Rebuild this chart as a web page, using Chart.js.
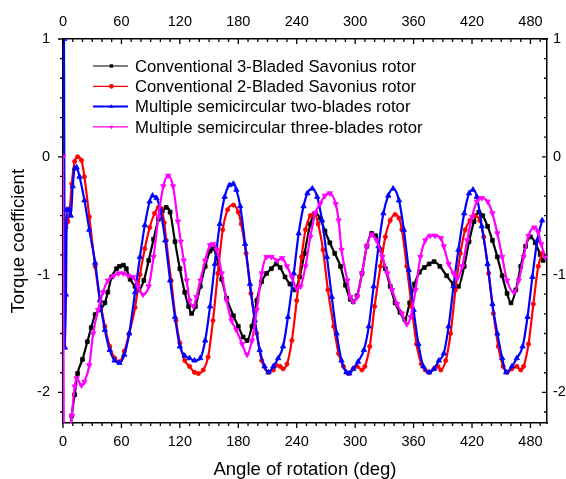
<!DOCTYPE html>
<html>
<head>
<meta charset="utf-8">
<script src="https://cdn.jsdelivr.net/npm/chart.js@4.4.1/dist/chart.umd.min.js"></script>
<style>
  html, body { margin: 0; padding: 0; background: #fff; }
  canvas { display: block; }
</style>
</head>
<body>
<canvas id="torque" width="566" height="479"></canvas>
<script>
// values (angle in deg, torque coefficient)

// Conventional 3-Bladed Savonius rotor
const angle3Blade = [7, 9, 12, 15, 20, 25, 29, 33, 38, 43, 46, 50, 55, 58, 62, 65, 69, 74, 78, 83,
  88, 93, 98, 102, 106, 110, 115, 120, 125, 129, 132, 136, 141, 146, 151, 154, 158, 163, 168, 175,
  180, 185, 189, 194, 199, 204, 209, 214, 219, 223, 228, 233, 238, 243, 248, 254, 259, 264, 269, 274,
  279, 285, 290, 295, 298, 302, 307, 312, 317, 321, 326, 331, 336, 341, 346, 351, 356, 361, 366, 371,
  376, 381, 387, 394, 401, 406, 412, 417, 422, 427, 431, 436, 441, 446, 451, 456, 460, 465, 470, 475,
  480, 485, 490, 493];
const torque3Blade = [-2.45, -2.2, -2.02, -1.84, -1.72, -1.57, -1.45, -1.34, -1.30, -1.24, -1.15, -1.02, -0.95, -0.93, -0.92, -0.95, -1.04, -1.10, -1.13, -1.05,
  -0.88, -0.70, -0.53, -0.46, -0.43, -0.47, -0.72, -0.95, -1.15, -1.27, -1.33, -1.27, -1.10, -0.93, -0.80, -0.78, -0.86, -1.04, -1.20, -1.35,
  -1.44, -1.53, -1.56, -1.44, -1.22, -1.06, -0.99, -0.95, -0.91, -0.94, -1.02, -1.08, -1.13, -1.02, -0.82, -0.57, -0.48, -0.52, -0.63, -0.73,
  -0.82, -0.93, -1.09, -1.21, -1.23, -1.18, -0.99, -0.76, -0.65, -0.67, -0.79, -0.95, -1.10, -1.24, -1.32, -1.38, -1.24, -1.08, -0.98, -0.94,
  -0.91, -0.89, -0.93, -1.01, -1.08, -1.10, -0.93, -0.72, -0.55, -0.47, -0.50, -0.59, -0.71, -0.85, -1.01, -1.16, -1.24, -1.13, -0.93, -0.76,
  -0.68, -0.73, -0.83, -0.88];

// Conventional 2-Bladed Savonius rotor
const angle2Blade = [1, 3, 5, 7, 9, 12, 15, 19, 22, 27, 33, 38, 43, 48, 53, 58, 63, 68, 74, 79,
  84, 89, 94, 98, 101, 104, 106, 111, 116, 120, 125, 130, 135, 139, 144, 149, 154, 159, 164, 169,
  175, 180, 183, 188, 193, 199, 204, 211, 216, 219, 223, 226, 230, 235, 240, 245, 249, 254, 258, 262,
  267, 272, 278, 283, 288, 293, 298, 302, 307, 310, 315, 320, 326, 331, 336, 341, 345, 348, 353, 358,
  363, 368, 372, 376, 381, 385, 388, 393, 398, 403, 408, 413, 418, 423, 428, 432, 437, 442, 447, 452,
  456, 461, 466, 470, 473, 478, 483, 488, 492];
const torque2Blade = [-0.45, -0.6, -0.55, -0.45, -0.23, -0.04, 0.0, -0.03, -0.17, -0.51, -0.93, -1.22, -1.44, -1.61, -1.71, -1.74, -1.65, -1.5, -1.28, -1.0,
  -0.78, -0.6, -0.48, -0.43, -0.44, -0.56, -0.71, -1.05, -1.39, -1.58, -1.73, -1.78, -1.83, -1.84, -1.81, -1.70, -1.39, -0.99, -0.62, -0.45,
  -0.41, -0.47, -0.57, -0.82, -1.16, -1.50, -1.73, -1.83, -1.81, -1.77, -1.78, -1.80, -1.76, -1.56, -1.22, -0.85, -0.62, -0.50, -0.48, -0.57,
  -0.79, -1.13, -1.44, -1.67, -1.78, -1.84, -1.80, -1.78, -1.81, -1.78, -1.61, -1.27, -0.93, -0.68, -0.54, -0.49, -0.52, -0.62, -0.93, -1.27,
  -1.59, -1.76, -1.81, -1.83, -1.80, -1.78, -1.81, -1.73, -1.50, -1.13, -0.82, -0.62, -0.54, -0.50, -0.54, -0.68, -0.99, -1.33, -1.61, -1.78,
  -1.83, -1.80, -1.78, -1.81, -1.78, -1.59, -1.25, -0.93, -0.82];

// Multiple semicircular two-blades rotor
const angleSemi2 = [1, 2, 3, 4, 6, 8, 10, 12, 14, 17, 22, 27, 33, 38, 43, 48, 53, 58, 63, 68,
  74, 79, 84, 89, 92, 96, 100, 105, 110, 115, 120, 125, 130, 135, 141, 146, 151, 156, 161, 166,
  171, 175, 178, 182, 187, 192, 197, 202, 207, 211, 216, 221, 226, 231, 237, 242, 247, 251, 256, 261,
  266, 271, 276, 281, 286, 291, 294, 298, 303, 309, 314, 319, 324, 329, 334, 339, 345, 350, 355, 360,
  365, 370, 376, 381, 386, 391, 396, 401, 406, 412, 417, 421, 425, 430, 436, 441, 446, 451, 455, 461,
  466, 472, 477, 482, 487, 492];
const torqueSemi2 = [1.0, -1.62, -1.17, -0.45, -0.45, -0.5, -0.25, -0.1, -0.09, -0.17, -0.37, -0.62, -0.90, -1.22, -1.47, -1.64, -1.73, -1.75, -1.68, -1.5,
  -1.15, -0.85, -0.58, -0.38, -0.33, -0.35, -0.45, -0.71, -1.05, -1.36, -1.61, -1.69, -1.71, -1.73, -1.71, -1.56, -1.27, -0.91, -0.57, -0.34,
  -0.24, -0.23, -0.28, -0.42, -0.74, -1.08, -1.39, -1.64, -1.78, -1.83, -1.78, -1.71, -1.61, -1.36, -0.99, -0.65, -0.42, -0.31, -0.27, -0.34,
  -0.54, -0.85, -1.19, -1.50, -1.73, -1.83, -1.84, -1.80, -1.74, -1.64, -1.44, -1.10, -0.76, -0.48, -0.33, -0.27, -0.37, -0.62, -0.96, -1.30,
  -1.59, -1.78, -1.83, -1.80, -1.73, -1.67, -1.44, -1.10, -0.79, -0.48, -0.31, -0.28, -0.34, -0.59, -0.91, -1.25, -1.50, -1.71, -1.83, -1.78,
  -1.71, -1.61, -1.36, -1.02, -0.71, -0.54];

// Multiple semicircular three-blades rotor
const angleSemi3 = [0, 1, 6, 9, 12, 14, 19, 22, 27, 31, 36, 41, 46, 52, 57, 62, 67, 72, 77, 82,
  88, 93, 98, 103, 108, 113, 118, 121, 124, 127, 130, 134, 137, 141, 146, 151, 154, 158, 163, 168,
  173, 178, 184, 189, 194, 199, 204, 209, 214, 220, 225, 230, 235, 240, 244, 249, 254, 259, 264, 269,
  274, 280, 283, 286, 292, 295, 298, 302, 307, 312, 317, 322, 328, 333, 338, 343, 348, 353, 357, 362,
  367, 372, 377, 382, 388, 391, 396, 401, 405, 410, 415, 420, 425, 430, 436, 441, 446, 451, 456, 463,
  468, 473, 478, 484, 488, 491, 495];
const torqueSemi3 = [0.0, -2.5, -2.45, -2.2, -1.95, -1.88, -1.94, -1.91, -1.77, -1.5, -1.3, -1.15, -1.05, -1.01, -0.99, -0.99, -1.01, -1.02, -1.10, -1.17,
  -1.10, -0.85, -0.51, -0.25, -0.16, -0.25, -0.55, -0.72, -0.88, -1.05, -1.22, -1.27, -1.19, -1.05, -0.88, -0.75, -0.74, -0.79, -0.99, -1.22,
  -1.39, -1.47, -1.59, -1.68, -1.56, -1.30, -0.99, -0.85, -0.85, -0.88, -0.86, -0.93, -1.02, -1.12, -1.10, -0.93, -0.68, -0.48, -0.40, -0.33,
  -0.31, -0.40, -0.54, -0.79, -1.05, -1.19, -1.23, -1.19, -0.99, -0.76, -0.66, -0.71, -0.85, -0.99, -1.13, -1.25, -1.33, -1.42, -1.36, -1.13,
  -0.85, -0.71, -0.67, -0.67, -0.69, -0.76, -0.91, -0.99, -1.03, -0.93, -0.71, -0.51, -0.38, -0.35, -0.38, -0.48, -0.65, -0.85, -1.05, -1.15,
  -1.05, -0.85, -0.67, -0.60, -0.64, -0.74, -0.85];

const seriesLabels = [
  'Conventional 3-Bladed Savonius rotor',
  'Conventional 2-Bladed Savonius rotor',
  'Multiple semicircular two-blades rotor',
  'Multiple semicircular three-blades rotor'
];
const xTicks = [0, 60, 120, 180, 240, 300, 360, 420, 480];
const yTicks = [-2, -1, 0, 1];

function pairs(xs, ys) {
  return xs.map((x, i) => ({ x: x, y: ys[i] }));
}

Chart.defaults.font.family = '"Liberation Sans", Arial, sans-serif';
Chart.defaults.color = '#000';

const tickFont = { size: 14.5 };
const titleFont = { size: 18.5, lineHeight: 1 };

// origin-style frame: major + minor ticks on all four sides
const frameTicks = {
  id: 'frameTicks',
  afterDraw(chart) {
    const ctx = chart.ctx;
    const a = chart.chartArea;
    const xs = chart.scales.x, ys = chart.scales.y;
    ctx.save();
    ctx.strokeStyle = '#000';
    ctx.lineWidth = 1.3;
    ctx.beginPath();
    for (let v = 0; v <= xs.max; v += 10) {
      const px = xs.getPixelForValue(v);
      const len = v % 60 === 0 ? 5 : 3;
      ctx.moveTo(px, a.bottom); ctx.lineTo(px, a.bottom + len);
      ctx.moveTo(px, a.top); ctx.lineTo(px, a.top + len);
    }
    for (let k = 6; k / 6 >= ys.min; k--) {
      const py = ys.getPixelForValue(k / 6);
      const len = k % 6 === 0 ? 5 : 3;
      ctx.moveTo(a.left, py); ctx.lineTo(a.left - len, py);
      ctx.moveTo(a.right, py); ctx.lineTo(a.right - len, py);
    }
    ctx.stroke();
    ctx.restore();
  }
};

function drawMarker(ctx, style, rot, r, x, y) {
  ctx.beginPath();
  if (style === 'rect') {
    const s = r * Math.SQRT1_2;
    ctx.rect(x - s, y - s, 2 * s, 2 * s);
  } else if (style === 'triangle') {
    const d = rot ? -1 : 1;
    ctx.moveTo(x, y - d * r);
    ctx.lineTo(x - r * 0.866, y + d * r * 0.5);
    ctx.lineTo(x + r * 0.866, y + d * r * 0.5);
    ctx.closePath();
  } else {
    ctx.arc(x, y, r, 0, Math.PI * 2);
  }
  ctx.fill();
}

// legend sitting inside the plot, top left
const innerLegend = {
  id: 'innerLegend',
  afterDraw(chart) {
    const ctx = chart.ctx;
    const a = chart.chartArea;
    ctx.save();
    ctx.font = '16.7px "Liberation Sans", Arial, sans-serif';
    ctx.textBaseline = 'middle';
    chart.data.datasets.forEach((ds, i) => {
      const y = a.top + 27 + i * 20.3;
      ctx.strokeStyle = ds.borderColor;
      ctx.fillStyle = ds.borderColor;
      ctx.lineWidth = i === 2 ? 2 : 1.2;
      ctx.beginPath();
      ctx.moveTo(a.left + 30, y);
      ctx.lineTo(a.left + 65, y);
      ctx.stroke();
      drawMarker(ctx, ds.pointStyle, ds.pointRotation, 2.4, a.left + 48.4, y);
      ctx.fillStyle = '#000';
      ctx.fillText(ds.label, a.left + 72, y + 1);
    });
    ctx.restore();
  }
};

const ctx = document.getElementById('torque');
const torqueChart = new Chart(ctx, {
  type: 'line',
  data: {
    datasets: [
      {
        label: seriesLabels[0], data: pairs(angle3Blade, torque3Blade),
        borderColor: '#000000', backgroundColor: '#000000',
        pointStyle: 'rect', pointRadius: 2.7, pointRotation: 0, order: 4
      },
      {
        label: seriesLabels[1], data: pairs(angle2Blade, torque2Blade),
        borderColor: '#ff0000', backgroundColor: '#ff0000',
        pointStyle: 'circle', pointRadius: 2.1, pointRotation: 0, order: 3
      },
      {
        label: seriesLabels[2], data: pairs(angleSemi2, torqueSemi2),
        borderColor: '#0000ff', backgroundColor: '#0000ff',
        pointStyle: 'triangle', pointRadius: 3.1, pointRotation: 0, order: 2
      },
      {
        label: seriesLabels[3], data: pairs(angleSemi3, torqueSemi3),
        borderColor: '#ff00ff', backgroundColor: '#ff00ff',
        pointStyle: 'triangle', pointRadius: 3.1, pointRotation: 180, order: 1
      }
    ]
  },
  options: {
    responsive: false,
    devicePixelRatio: 1,
    animation: false,
    layout: { padding: 0 },
    elements: {
      line: { borderWidth: 2.2, cubicInterpolationMode: 'monotone', fill: false },
      point: { borderWidth: 0.8, hoverRadius: 2 }
    },
    plugins: {
      legend: { display: false },
      tooltip: { enabled: false }
    },
    scales: {
      x: {
        type: 'linear', position: 'bottom', min: 0, max: 497,
        afterBuildTicks: s => { s.ticks = xTicks.map(v => ({ value: v })); },
        ticks: { font: tickFont, padding: 10, maxRotation: 0, autoSkip: false },
        grid: { display: false, drawTicks: false },
        border: { display: true, color: '#000', width: 1.5 },
        title: { display: true, text: 'Angle of rotation (deg)', font: titleFont, padding: { top: 0, bottom: 0 } },
        afterFit: s => { s.height = 56; }
      },
      x2: {
        type: 'linear', position: 'top', min: 0, max: 497,
        afterBuildTicks: s => { s.ticks = xTicks.map(v => ({ value: v })); },
        ticks: { font: tickFont, padding: 8, maxRotation: 0, autoSkip: false },
        grid: { display: false, drawTicks: false },
        border: { display: true, color: '#000', width: 1.5 },
        afterFit: s => { s.height = 39; }
      },
      y: {
        type: 'linear', position: 'left', min: -2.26, max: 1,
        afterBuildTicks: s => { s.ticks = yTicks.map(v => ({ value: v })); },
        ticks: { font: tickFont, padding: 13 },
        grid: { display: false, drawTicks: false },
        border: { display: true, color: '#000', width: 1.5 },
        title: { display: true, text: 'Torque coefficient    ', font: titleFont, padding: { top: 10, bottom: 0 } },
        afterFit: s => { s.width = 63; }
      },
      y2: {
        type: 'linear', position: 'right', min: -2.26, max: 1,
        afterBuildTicks: s => { s.ticks = yTicks.map(v => ({ value: v })); },
        ticks: { font: tickFont, padding: 6 },
        grid: { display: false, drawTicks: false },
        border: { display: true, color: '#000', width: 1.5 },
        afterFit: s => { s.width = 19; }
      }
    }
  },
  plugins: [frameTicks, innerLegend]
});
</script>
</body>
</html>
